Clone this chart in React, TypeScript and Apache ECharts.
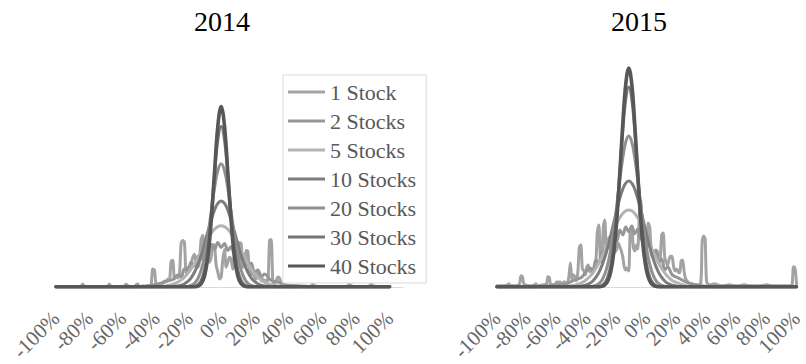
import React, { useEffect, useRef } from "react";
import * as echarts from "echarts";

// ---------- data ----------
const SERIES_NAMES = ["1 Stock", "2 Stocks", "5 Stocks", "10 Stocks", "20 Stocks", "30 Stocks", "40 Stocks"];
const SERIES_COLORS = ["#a3a3a3", "#969696", "#b3b3b3", "#7d7d7d", "#909090", "#767676", "#575757"];
const PANEL_TITLES = ["2014", "2015"];
const TICK_VALUES = [-100, -80, -60, -40, -20, 0, 20, 40, 60, 80, 100];

const range = (a: number, b: number) => {
  const out: number[] = [];
  for (let v = a; v <= b; v++) out.push(v);
  return out;
};
const step2 = (a: number, b: number) => {
  const out: number[] = [];
  for (let v = a; v <= b; v += 2) out.push(v);
  return out;
};

// 2014 – smooth portfolios (return %, x grid)
const X_2014 = [-100, -80, -65, -55, -47, -40, -34, -30, ...step2(-27, 25), 29, 33, 38, 44, 52, 65, 80, 100];
const S2_2014 = [0, 0, 0.1, 0.3, 0.7, 2.5, 5.5, 7.5, 12, 10, 18, 17, 25, 21, 31, 28, 37, 33, 43, 38, 45, 40, 44, 37, 41, 33, 36, 27, 30, 22, 24, 15, 17, 10, 13, 6.5, 5, 2, 1.2, 0.3, 0, 0, 0];
const S5_2014 = [0, 0, 0, 0, 0, 0.3, 1.0, 2.6, 4.8, 7.0, 9.9, 13.7, 18.2, 23.5, 29.5, 36.0, 42.5, 48.7, 54.1, 58.4, 61.1, 62, 61.1, 58.4, 54.1, 48.7, 42.5, 36.0, 29.5, 23.5, 18.2, 13.7, 9.9, 7.0, 4.8, 2.1, 0.8, 0.2, 0, 0, 0, 0, 0];
const S10_2014 = [0, 0, 0, 0, 0, 0, 0, 0.3, 0.8, 1.6, 3.1, 5.5, 9.2, 14.8, 22.4, 32.1, 43.5, 55.9, 67.8, 77.9, 84.6, 87, 84.6, 77.9, 67.8, 55.9, 43.5, 32.1, 22.4, 14.8, 9.2, 5.5, 3.1, 1.6, 0.8, 0.2, 0, 0, 0, 0, 0, 0, 0];
const S20_2014 = [0, 0, 0, 0, 0, 0, 0, 0, 0, 0, 0, 0.5, 1.4, 3.6, 8.2, 17, 31, 51, 76, 100, 118, 125, 118, 100, 76, 51, 31, 17, 8.2, 3.6, 1.4, 0.5, 0, 0, 0, 0, 0, 0, 0, 0, 0, 0, 0];
const S30_2014 = [0, 0, 0, 0, 0, 0, 0, 0, 0, 0, 0, 0, 0, 0.5, 1.9, 6.3, 17, 38, 72, 113, 149, 163, 149, 113, 72, 38, 17, 6.3, 1.9, 0.5, 0, 0, 0, 0, 0, 0, 0, 0, 0, 0, 0, 0, 0];
const S40_2014 = [0, 0, 0, 0, 0, 0, 0, 0, 0, 0, 0, 0, 0, 0, 0.7, 3.1, 10.8, 30, 66, 116, 163, 183, 163, 116, 66, 30, 10.8, 3.1, 0.7, 0, 0, 0, 0, 0, 0, 0, 0, 0, 0, 0, 0, 0, 0];

// 2014 – single stock (spiky)
const X1_2014 = [-100, -90, -85, -84, -83, -75, -69, -68, -67, -60, -59, -58, -57, -53, -52, -51, ...range(-50, 40), 41, 45, 50, 53, 54, 55, 60, 70, 75, 76, 77, 85, 88, 89, 90, 95, 100];
const S1_2014 = [
  0, 0, 0.5, 3, 0.5, 0, 0.5, 3, 0.5, 0, 1, 3, 1, 0, 2, 3,
  0, 0, 1, 0, 1, 0, 1, 2, 18, 17, 2, 1, 3, 2, 4, 6, 5, 8, 7, 26, 27, 8, 10, 9, 12, 44, 47, 45, 14, 20, 18, 24, 30, 33, 22, 20, 26, 48, 52, 30, 28, 35, 25, 30, 43, 42, 22, 15, 8, 10,
  28, 38, 20, 25, 30, 28, 18, 35, 22, 30, 45, 44, 20, 25, 37, 36, 15, 12, 18, 10, 8, 15, 14, 6, 8, 5, 7, 6, 47, 48, 5, 4, 6, 10, 9, 3, 2, 3, 1, 1, 0,
  0, 1, 0, 1, 3, 1, 0, 0, 1, 3, 1, 0, 1, 3, 1, 0, 0,
];

// 2015 – smooth portfolios
const X_2015 = [-100, -85, -72, -62, -54, -48, -44, -41, ...step2(-38, 14), 17, 21, 26, 31, 40, 55, 75, 100];
const S2_2015 = [0, 0, 0.3, 1.5, 3, 7, 9, 14, 19, 16, 27, 24, 35, 31, 45, 39, 50, 46, 57, 52, 60, 55, 61, 53, 58, 48, 52, 40, 45, 33, 36, 24, 28, 17, 20, 12, 9, 5, 2.5, 0.5, 0, 0, 0];
const S5_2015 = [0, 0, 0, 0, 0.4, 1.7, 3.7, 6.4, 10.4, 14.0, 18.4, 23.6, 29.5, 36.1, 43.1, 50.3, 57.3, 63.7, 69.2, 73.4, 76.1, 77, 76.1, 73.4, 69.2, 63.7, 57.3, 50.3, 43.1, 36.1, 29.5, 23.6, 18.4, 14.0, 10.4, 6.4, 3.7, 1.1, 0.3, 0, 0, 0, 0];
const S10_2015 = [0, 0, 0, 0, 0, 0.2, 0.6, 1.6, 3.6, 5.9, 9.4, 14.3, 21, 29.5, 39.8, 51.6, 64.3, 77, 88.5, 97.8, 103.9, 106, 103.9, 97.8, 88.5, 77, 64.3, 51.6, 39.8, 29.5, 21, 14.3, 9.4, 5.9, 3.6, 1.6, 0.5, 0.1, 0, 0, 0, 0, 0];
const S20_2015 = [0, 0, 0, 0, 0, 0, 0, 0, 0.2, 0.6, 1.4, 3.2, 6.6, 12.8, 22.8, 37.7, 57.6, 81.5, 107, 129, 145, 151, 145, 129, 107, 81.5, 57.6, 37.7, 22.8, 12.8, 6.6, 3.2, 1.4, 0.6, 0.2, 0, 0, 0, 0, 0, 0, 0, 0];
const S30_2015 = [0, 0, 0, 0, 0, 0, 0, 0, 0, 0, 0, 0.4, 1.4, 3.9, 9.8, 21.8, 43, 75, 115, 156, 188, 200, 188, 156, 115, 75, 43, 21.8, 9.8, 3.9, 1.4, 0.4, 0, 0, 0, 0, 0, 0, 0, 0, 0, 0, 0];
const S40_2015 = [0, 0, 0, 0, 0, 0, 0, 0, 0, 0, 0, 0, 0.5, 1.9, 5.8, 15.3, 34.5, 67, 112.6, 163, 203, 219, 203, 163, 112.6, 67, 34.5, 15.3, 5.8, 1.9, 0.5, 0, 0, 0, 0, 0, 0, 0, 0, 0, 0, 0, 0];

// 2015 – single stock (spiky)
const X1_2015 = [-100, -96, -93, -92, -91, -87, -85, -84, -83, -82, -78, -75, -74, -73, -70, -67, -66, -65, -64, -61, -60, -59, -58, -57, ...range(-56, 26), 28, 30, 33, 36, 37, 38, 39, 40, 42, 45, 50, 55, 60, 65, 70, 75, 80, 85, 90, 95, 97, 98, 99, 100];
const S1_2015 = [
  1, 1, 2, 3, 1, 1, 3, 11, 10, 3, 1, 2, 3, 1, 2, 3, 10, 9, 2, 3, 5, 4, 5, 3,
  4, 5, 3, 4, 10, 24, 8, 12, 10, 6, 15, 40, 42, 18, 16, 12, 20, 22, 15, 18, 14, 20, 24, 55, 62, 30, 25, 60, 67, 35, 45, 50, 38, 40, 42, 35, 38, 44, 40, 36, 30, 20, 17, 19, 16, 58, 60, 40, 36, 42, 38, 70, 87, 60, 45, 50,
  40, 64, 60, 35, 30, 33, 37, 36, 25, 28, 52, 54, 30, 24, 22, 28, 31, 30, 20, 16, 18, 15, 14, 26, 27, 15, 8,
  4, 3, 2, 3, 45, 51, 48, 5, 2, 3, 1, 2, 1, 2, 1, 1, 2, 1, 1, 1, 2, 20, 20, 3,
];

const PANELS = [
  { xs: X_2014, x1: X1_2014, s1: S1_2014, smooth: [S2_2014, S5_2014, S10_2014, S20_2014, S30_2014, S40_2014] },
  { xs: X_2015, x1: X1_2015, s1: S1_2015, smooth: [S2_2015, S5_2015, S10_2015, S20_2015, S30_2015, S40_2015] },
];

const FONT = "'Liberation Serif', 'Times New Roman', serif";

export default function App() {
  const ref = useRef<HTMLDivElement>(null);
  useEffect(() => {
    if (!ref.current) return;
    const chart = echarts.init(ref.current, undefined, { renderer: "svg" });

    const grids = [
      { left: 56, top: 70, width: 347, height: 220 },
      { left: 497, top: 67, width: 309, height: 220 },
    ];
    const xMax = [108, 100];

    const series: any[] = [];
    PANELS.forEach((p, gi) => {
      const all = [p.s1, ...p.smooth];
      all.forEach((ys, si) => {
        const xs = si === 0 ? p.x1 : p.xs;
        series.push({
          type: "line",
          name: SERIES_NAMES[si],
          xAxisIndex: gi,
          yAxisIndex: gi,
          data: xs.map((x, i) => [x, ys[i]]),
          showSymbol: false,
          symbol: "none",
          smooth: si === 0 ? 0.25 : 0.4,
          silent: true,
          itemStyle: { color: SERIES_COLORS[si] },
          lineStyle: { color: SERIES_COLORS[si], width: si === 6 ? 3.6 : 3, cap: "round", join: "round" },
        });
      });
    });

    chart.setOption({
      animation: false,
      backgroundColor: "#ffffff",
      textStyle: { fontFamily: FONT },
      grid: grids.map((g) => ({ ...g, containLabel: false })),
      xAxis: grids.map((_, gi) => ({
        type: "value",
        gridIndex: gi,
        min: -100,
        max: xMax[gi],
        interval: 20,
        axisLine: { show: true, onZero: false, lineStyle: { color: "#d9d9d9", width: 1 } },
        axisTick: { show: false },
        splitLine: { show: false },
        axisLabel: {
          rotate: 45,
          margin: 28,
          hideOverlap: false,
          color: "#666666",
          fontFamily: FONT,
          fontSize: 21,
          showMinLabel: true,
          showMaxLabel: gi === 1,
          formatter: (v: number) => (TICK_VALUES.includes(v) ? `${v}%` : ""),
        },
      })),
      yAxis: grids.map((_, gi) => ({
        type: "value",
        gridIndex: gi,
        min: 0,
        max: 220,
        show: false,
      })),
      legend: {
        data: SERIES_NAMES,
        orient: "vertical",
        left: 283,
        top: 75,
        padding: [6, 10, 6, 5],
        itemGap: 7,
        itemWidth: 37,
        itemHeight: 3,
        icon: "rect",
        borderColor: "#d9d9d9",
        borderWidth: 1,
        backgroundColor: "#ffffff",
        selectedMode: false,
        textStyle: { fontFamily: FONT, fontSize: 22, lineHeight: 20, color: "#595959" },
      },
      graphic: PANEL_TITLES.map((t, i) => ({
        type: "text",
        x: i === 0 ? 222 : 639,
        y: 21,
        style: {
          text: t,
          align: "center",
          verticalAlign: "middle",
          fontFamily: FONT,
          fontSize: 28,
          fill: "#000000",
        },
      })),
      series,
    });
    return () => chart.dispose();
  }, []);

  return (
    <div
      ref={ref}
      style={{ position: "fixed", left: 0, top: 0, width: 806, height: 364, background: "#fff" }}
    />
  );
}
